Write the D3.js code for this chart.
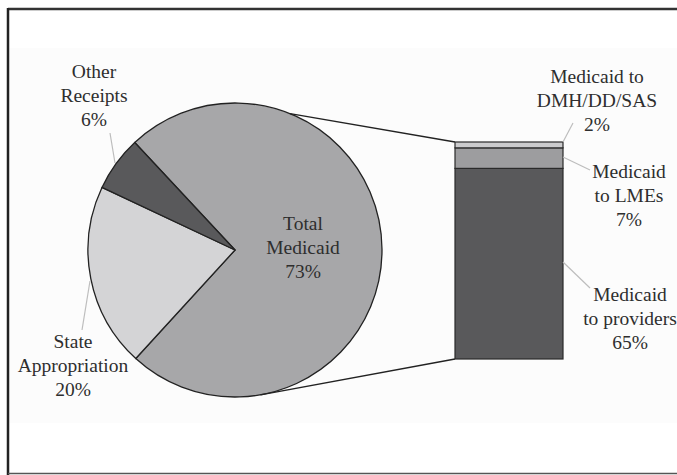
<!DOCTYPE html>
<html><head><meta charset="utf-8">
<script src="https://cdn.jsdelivr.net/npm/d3@7"></script>
<style>html,body{margin:0;padding:0;background:#fff;}svg{display:block;}
text{font-family:"Liberation Serif","Times New Roman","DejaVu Serif",serif;}</style>
</head><body>
<svg id="c" width="677" height="475"></svg>
<script>
// Data
const pieLabels = ["Total Medicaid", "State Appropriation", "Other Receipts"];
const pieValues = [73, 20, 6];
const pieColors = ["#a7a7a9", "#d4d4d6", "#59595b"];
const barLabels = ["Medicaid to providers", "Medicaid to LMEs", "Medicaid to DMH/DD/SAS"];
const barValues = [65, 7, 2];
const barColors = ["#59595b", "#9d9d9f", "#cbcbcd"];

const svg = d3.select("#c");
const textCol = "#2e2e2e";

// faint panel + frame
svg.append("rect").attr("x", 9).attr("y", 48).attr("width", 668).attr("height", 375).attr("fill", "#fcfcfc");
svg.append("line").attr("x1", 8).attr("x2", 677).attr("y1", 9).attr("y2", 9).attr("stroke", "#333").attr("stroke-width", 2.5);
svg.append("line").attr("x1", 8).attr("x2", 8).attr("y1", 8).attr("y2", 475).attr("stroke", "#222").attr("stroke-width", 2.5);
svg.append("line").attr("x1", 8).attr("x2", 677).attr("y1", 473.5).attr("y2", 473.5).attr("stroke", "#555").attr("stroke-width", 1.5);

// Pie
const cx = 235, cy = 250, r = 147;
const pie = d3.pie().sort(null).startAngle(-43 * Math.PI / 180).endAngle(-43 * Math.PI / 180 + 2 * Math.PI);
const arcs = pie(pieValues);
const arcGen = d3.arc().innerRadius(0).outerRadius(r);
const g = svg.append("g").attr("transform", `translate(${cx},${cy})`);
g.selectAll("path").data(arcs).join("path")
  .attr("d", arcGen).attr("fill", (d, i) => pieColors[i])
  .attr("stroke", "#222").attr("stroke-width", 1.3).attr("stroke-linejoin", "round");

// Bar (stacked)
const barX = 455, barW = 108, barTop = 142, barBottom = 359;
const total = d3.sum(barValues);
const y = d3.scaleLinear().domain([0, total]).range([barBottom, barTop]);
const stack = d3.stack().keys(barLabels.map((d, i) => i))([barValues.reduce((o, v, i) => (o[i] = v, o), {})]);

// connector lines (from pie to bar corners)
const topAng = 22 * Math.PI / 180, botAng = 170 * Math.PI / 180;
svg.append("line").attr("x1", cx + r * Math.sin(topAng)).attr("y1", cy - r * Math.cos(topAng))
  .attr("x2", barX).attr("y2", y(total)).attr("stroke", "#222").attr("stroke-width", 1.3);
svg.append("line").attr("x1", cx + r * Math.sin(botAng)).attr("y1", cy - r * Math.cos(botAng))
  .attr("x2", barX).attr("y2", y(0)).attr("stroke", "#222").attr("stroke-width", 1.3);

svg.append("g").selectAll("rect").data(stack).join("rect")
  .attr("x", barX).attr("width", barW)
  .attr("y", d => y(d[0][1])).attr("height", d => y(d[0][0]) - y(d[0][1]))
  .attr("fill", (d, i) => barColors[i]).attr("stroke", "#2a2a2a").attr("stroke-width", 1.2);

// leader lines
const leaders = [
  [110, 133, 115, 163],
  [90, 281, 82, 330],
  [563, 142, 573, 123],
  [563, 157, 590, 170],
  [563, 262, 590, 288]
];
svg.append("g").selectAll("line").data(leaders).join("line")
  .attr("x1", d => d[0]).attr("y1", d => d[1]).attr("x2", d => d[2]).attr("y2", d => d[3])
  .attr("stroke", "#bdbdbd").attr("stroke-width", 1.2);

// labels
const labels = [
  { x: 94, y: 78, lines: ["Other", "Receipts", "6%"] },
  { x: 303, y: 230, lines: ["Total", "Medicaid", "73%"] },
  { x: 73, y: 348, lines: ["State", "Appropriation", "20%"] },
  { x: 597, y: 83, lines: ["Medicaid to", "DMH/DD/SAS", "2%"] },
  { x: 629, y: 178, lines: ["Medicaid", "to LMEs", "7%"] },
  { x: 630, y: 301, lines: ["Medicaid", "to providers", "65%"] }
];
labels.forEach(l => {
  const t = svg.append("text").attr("x", l.x).attr("y", l.y).attr("text-anchor", "middle")
    .style("font-size", "19.5px").attr("fill", textCol);
  l.lines.forEach((s, i) => t.append("tspan").attr("x", l.x).attr("dy", i === 0 ? 0 : 24).text(s));
});
</script>
</body></html>
